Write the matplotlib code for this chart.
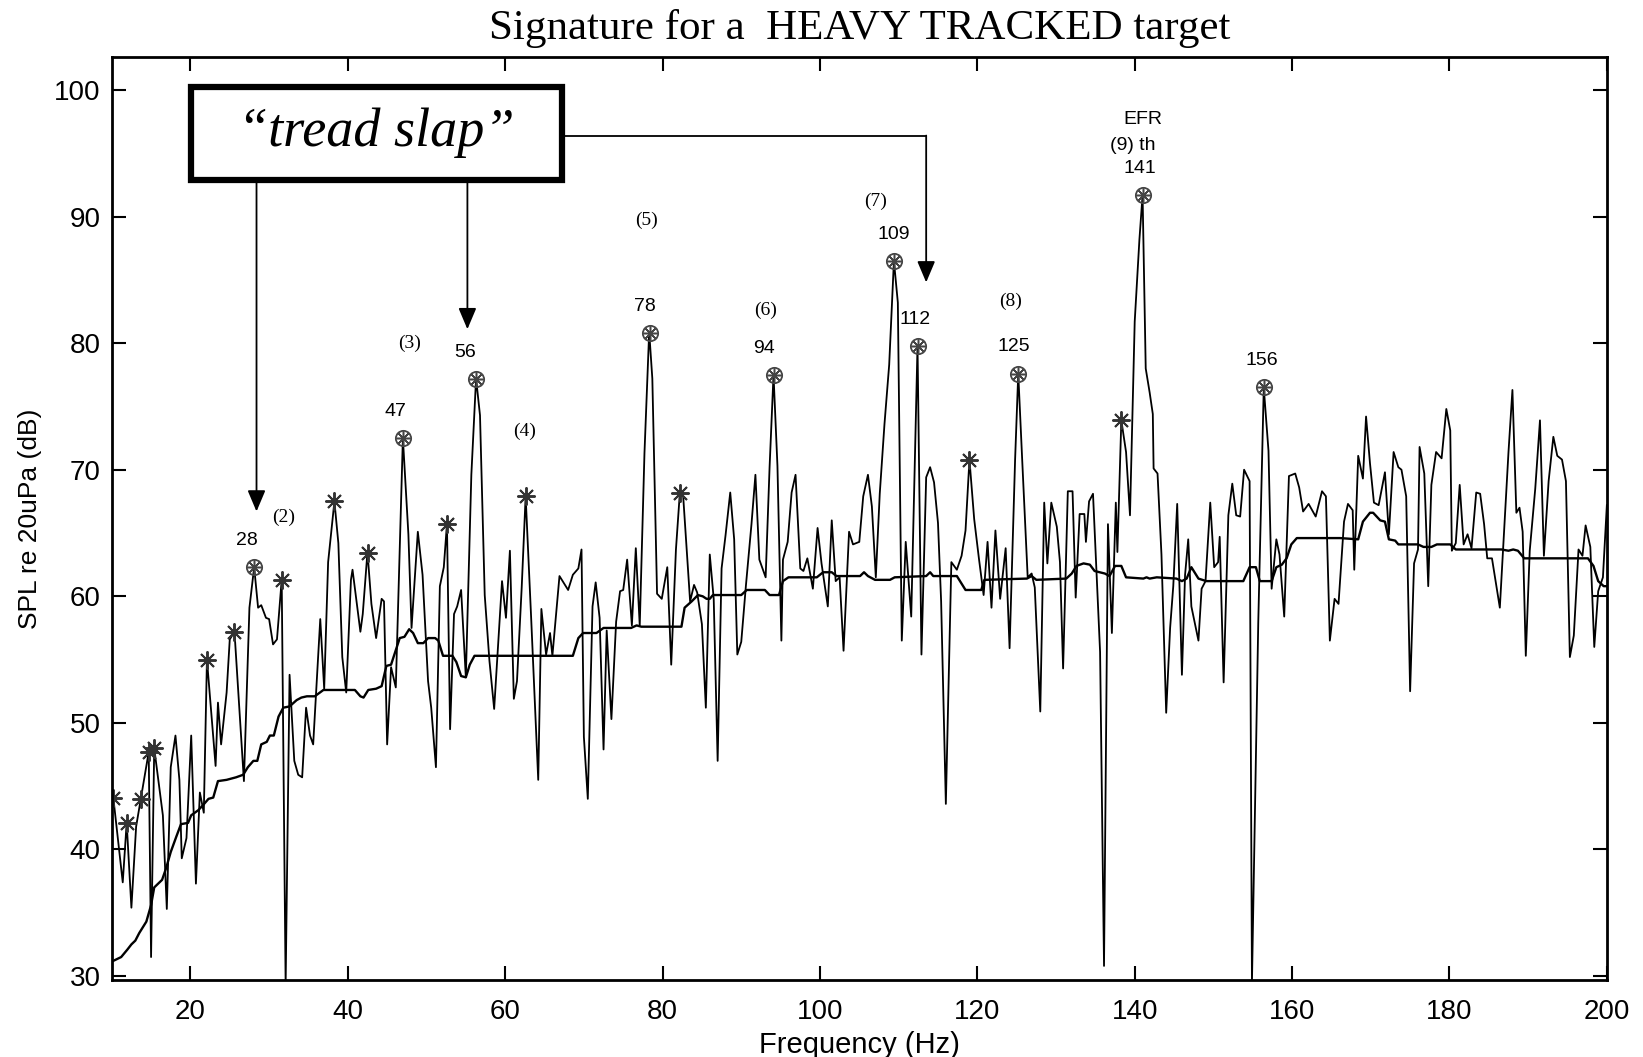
import matplotlib
matplotlib.use("Agg")
import matplotlib.pyplot as plt
from matplotlib.patches import Rectangle

# narrowband spectrum (vertices)
raw_freq = [10.2, 11.4, 11.9, 12.5, 13.1, 13.7, 14.7, 15.0, 15.4, 16.5, 17.0, 17.5, 18.1, 18.6, 18.9,
            19.5, 20.1, 20.7, 21.2, 21.7, 22.1, 23.2, 23.5, 23.9, 24.6, 25.0, 25.6, 26.8, 27.5, 28.1,
            28.6, 29.0, 29.6, 30.0, 30.5, 31.0, 31.6, 32.1, 32.6, 33.2, 33.7, 34.2, 34.7, 35.2, 35.6,
            36.5, 37.0, 37.5, 38.3, 38.8, 39.3, 39.8, 40.4, 40.6, 41.6, 41.9, 42.5, 43.0, 43.6, 44.3,
            44.6, 45.0, 45.5, 46.1, 47.0, 47.7, 48.1, 48.9, 49.5, 50.2, 50.6, 51.2, 51.7, 52.2, 52.6,
            53.0, 53.5, 53.9, 54.4, 55.0, 55.7, 56.3, 56.8, 57.4, 58.0, 58.6, 59.1, 59.6, 60.1, 60.6,
            61.1, 61.5, 62.1, 62.6, 63.3, 64.2, 64.6, 65.2, 65.7, 66.0, 66.9, 68.0, 68.6, 69.3, 69.7,
            70.0, 70.5, 71.1, 71.5, 72.0, 72.5, 72.9, 73.5, 74.1, 74.6, 75.0, 75.5, 76.1, 76.6, 77.1,
            77.7, 78.3, 78.7, 79.3, 79.9, 80.6, 81.1, 81.7, 82.2, 82.6, 83.5, 84.0, 84.4, 85.0, 85.5,
            86.0, 86.5, 87.0, 87.5, 88.0, 88.6, 89.1, 89.5, 90.0, 90.6, 91.3, 91.8, 92.3, 93.1, 93.6,
            94.1, 94.6, 95.1, 95.3, 95.9, 96.4, 96.9, 97.5, 97.9, 98.4, 99.1, 99.7, 100.2, 101.0, 101.5,
            102.0, 102.5, 103.0, 103.7, 104.2, 105.0, 105.5, 106.1, 106.6, 107.1, 107.6, 108.2, 108.8, 109.4, 109.9,
            110.4, 110.9, 111.6, 112.4, 112.9, 113.5, 114.0, 114.5, 115.0, 115.4, 116.0, 116.7, 117.4, 118.0, 118.5,
            119.0, 119.6, 120.2, 120.8, 121.3, 121.8, 122.3, 122.9, 123.6, 124.1, 124.8, 125.2, 125.7, 126.4, 126.9,
            127.3, 128.0, 128.5, 128.9, 129.4, 130.1, 130.5, 130.9, 131.5, 132.1, 132.5, 133.0, 133.6, 133.8, 134.2,
            134.7, 135.6, 136.1, 136.6, 137.1, 137.6, 137.8, 138.3, 138.9, 139.4, 140.0, 140.6, 141.0, 141.4, 141.9,
            142.3, 142.4, 142.9, 143.4, 144.0, 144.5, 144.9, 145.4, 146.0, 146.4, 146.8, 147.2, 148.1, 148.5, 149.0,
            149.6, 150.1, 150.6, 150.8, 151.3, 151.9, 152.4, 152.9, 153.4, 153.9, 154.6, 154.9, 155.7, 156.4, 157.0,
            157.4, 158.0, 158.4, 159.0, 159.6, 160.4, 160.9, 161.4, 162.1, 163.0, 163.8, 164.3, 164.8, 165.4, 165.9,
            166.6, 167.1, 167.7, 167.9, 168.4, 169.0, 169.4, 169.9, 170.4, 171.0, 171.8, 172.3, 172.9, 173.5, 173.9,
            174.5, 175.0, 175.5, 176.0, 176.2, 176.8, 177.3, 177.7, 178.3, 179.0, 179.6, 180.1, 180.3, 180.8, 181.3,
            181.8, 182.3, 182.8, 183.4, 183.9, 184.4, 184.8, 185.4, 186.4, 187.5, 188.0, 188.5, 188.9, 189.3, 189.7,
            190.2, 190.9, 191.5, 192.0, 192.6, 193.2, 193.7, 194.3, 194.8, 195.3, 195.8, 196.4, 196.9, 197.3, 197.9,
            198.4, 198.9, 199.5, 200.0]
raw_spl = [44.1, 37.4, 42.1, 35.4, 41.8, 44.0, 47.7, 31.5, 48.0, 42.7, 35.3, 46.5, 49.0, 45.5, 39.3,
           40.9, 49.0, 37.3, 44.5, 42.9, 55.0, 46.6, 51.6, 48.3, 52.4, 56.6, 57.2, 45.4, 59.1, 62.3,
           59.1, 59.3, 58.3, 58.2, 56.2, 56.6, 61.3, 29.3, 53.8, 47.0, 45.9, 45.7, 51.2, 49.0, 48.3,
           58.2, 52.7, 62.7, 67.5, 64.2, 55.2, 52.4, 61.3, 62.1, 57.2, 58.6, 63.5, 59.4, 56.7, 59.8,
           59.6, 48.3, 54.4, 52.8, 72.5, 64.9, 57.5, 65.1, 61.7, 53.3, 51.2, 46.5, 60.8, 62.3, 65.7,
           49.5, 58.6, 59.2, 60.5, 53.6, 69.6, 77.2, 74.3, 60.1, 54.9, 51.1, 56.2, 61.2, 58.3, 63.6,
           51.9, 53.3, 60.7, 67.9, 58.3, 45.5, 59.0, 55.4, 57.1, 55.3, 61.6, 60.5, 61.7, 62.2, 63.7,
           48.9, 44.0, 59.2, 61.1, 58.3, 47.9, 57.3, 50.3, 58.0, 60.4, 60.5, 62.9, 57.7, 63.8, 57.7,
           71.3, 80.9, 77.2, 60.2, 59.8, 62.3, 54.6, 63.7, 68.2, 68.1, 59.6, 60.9, 60.3, 57.8, 51.2,
           63.3, 59.8, 47.0, 62.2, 64.8, 68.2, 64.5, 55.4, 56.4, 60.9, 65.7, 69.6, 62.9, 61.5, 70.2,
           77.5, 70.3, 56.5, 62.9, 64.3, 68.2, 69.6, 62.2, 62.0, 63.0, 60.6, 65.4, 62.6, 59.2, 66.0,
           61.2, 61.5, 55.7, 65.1, 64.1, 64.3, 67.9, 69.6, 67.1, 61.5, 68.1, 73.6, 78.3, 86.5, 83.2,
           56.5, 64.3, 58.4, 79.8, 55.4, 69.4, 70.2, 69.0, 65.8, 59.6, 43.6, 62.7, 62.1, 63.2, 65.2,
           70.8, 66.1, 63.0, 60.1, 64.3, 59.1, 65.2, 59.8, 63.8, 55.9, 70.8, 77.6, 70.8, 61.5, 61.8,
           60.7, 50.9, 67.4, 62.6, 67.4, 65.5, 62.7, 54.3, 68.3, 68.3, 59.9, 66.5, 66.5, 64.3, 67.5,
           68.1, 55.6, 30.8, 65.7, 57.1, 67.4, 63.5, 73.9, 71.4, 66.4, 81.7, 88.2, 91.7, 78.0, 76.1,
           74.4, 70.1, 69.7, 63.3, 50.8, 57.5, 60.8, 67.3, 53.8, 61.7, 64.5, 59.2, 56.5, 60.6, 61.2,
           67.4, 62.3, 62.7, 64.7, 53.2, 66.4, 68.9, 66.4, 66.3, 70.0, 69.1, 29.5, 57.9, 76.5, 71.5,
           60.6, 64.5, 63.3, 58.4, 69.5, 69.7, 68.6, 66.7, 67.3, 66.3, 68.3, 67.9, 56.5, 59.8, 59.4,
           65.9, 67.3, 66.8, 62.1, 71.1, 69.3, 74.2, 70.5, 67.4, 67.2, 69.8, 64.9, 71.4, 70.2, 70.0,
           67.9, 52.5, 62.6, 63.7, 71.8, 69.7, 60.8, 68.8, 71.4, 70.9, 74.8, 73.1, 63.6, 64.2, 68.8,
           64.1, 64.9, 63.8, 68.2, 68.1, 65.7, 63.0, 63.0, 59.1, 71.4, 76.3, 66.6, 67.0, 65.1, 55.3,
           63.6, 68.5, 73.9, 63.2, 69.1, 72.6, 71.1, 70.8, 69.1, 55.2, 56.9, 63.7, 63.2, 65.6, 63.9,
           56.0, 60.4, 61.5, 67.2]

# smoothed background level
avg_freq = [10.2, 11.2, 12.0, 12.5, 13.0, 13.5, 14.4, 15.0, 15.4, 16.4, 16.9, 17.5, 18.2, 18.8, 19.7,
            20.1, 21.0, 21.6, 22.3, 22.9, 23.5, 24.6, 25.8, 26.7, 27.3, 28.0, 28.5, 29.0, 29.7, 30.1,
            30.6, 31.2, 31.8, 32.6, 33.5, 34.1, 34.8, 35.8, 36.9, 37.7, 40.9, 41.6, 42.0, 42.6, 43.6,
            44.3, 44.9, 45.5, 46.6, 47.2, 47.8, 48.3, 48.9, 49.6, 50.2, 51.1, 51.5, 52.1, 53.3, 53.8,
            54.4, 55.0, 55.5, 56.1, 68.6, 69.3, 69.9, 71.6, 72.5, 76.0, 76.7, 77.3, 82.4, 82.8, 83.7,
            84.5, 85.1, 85.6, 86.0, 86.4, 90.0, 90.7, 93.0, 93.6, 94.8, 95.3, 96.0, 99.6, 100.4, 101.5,
            102.1, 105.1, 105.6, 106.1, 107.0, 108.9, 109.5, 113.5, 114.0, 114.4, 117.4, 118.0, 118.5, 120.5, 120.9,
            126.3, 126.9, 127.5, 131.3, 132.0, 132.6, 133.5, 134.3, 134.9, 136.2, 136.8, 137.5, 138.3, 138.9, 141.1,
            141.5, 141.9, 142.8, 145.3, 146.0, 146.6, 147.2, 148.1, 149.1, 153.8, 154.6, 155.4, 155.9, 157.4, 158.0,
            158.7, 159.3, 159.9, 160.6, 166.1, 168.4, 169.0, 169.9, 170.3, 171.2, 171.8, 172.3, 173.1, 173.5, 176.0,
            176.7, 177.7, 178.4, 180.1, 180.8, 186.6, 187.5, 188.1, 188.7, 189.5, 197.6, 198.3, 198.9, 199.6, 200.0]
avg_spl = [31.2, 31.5, 32.1, 32.5, 32.8, 33.4, 34.3, 35.6, 37.0, 37.6, 38.5, 39.8, 41.0, 42.0, 42.1,
           42.7, 43.1, 43.5, 44.0, 44.1, 45.4, 45.5, 45.7, 45.9, 46.5, 47.0, 47.0, 48.3, 48.5, 49.0,
           49.0, 50.5, 51.2, 51.3, 51.8, 52.0, 52.1, 52.1, 52.6, 52.6, 52.6, 52.1, 52.0, 52.6, 52.7,
           52.9, 54.5, 54.6, 56.7, 56.8, 57.4, 57.1, 56.3, 56.3, 56.7, 56.7, 56.5, 55.3, 55.3, 54.8,
           53.7, 53.6, 54.6, 55.3, 55.3, 56.7, 57.1, 57.1, 57.5, 57.5, 57.7, 57.6, 57.6, 59.1, 59.6,
           60.1, 60.0, 59.8, 59.8, 60.1, 60.1, 60.5, 60.5, 60.1, 60.1, 61.2, 61.5, 61.5, 61.9, 61.9,
           61.6, 61.6, 61.9, 61.6, 61.3, 61.3, 61.5, 61.6, 61.9, 61.6, 61.6, 61.0, 60.5, 60.5, 61.3,
           61.4, 61.6, 61.3, 61.4, 61.8, 62.4, 62.6, 62.5, 62.0, 61.8, 61.6, 62.4, 62.4, 61.5, 61.4,
           61.5, 61.4, 61.5, 61.4, 61.2, 61.4, 62.3, 61.4, 61.2, 61.2, 62.3, 62.3, 61.2, 61.2, 62.3,
           62.5, 63.0, 64.1, 64.6, 64.6, 64.5, 65.9, 66.6, 66.6, 66.0, 65.9, 64.5, 64.4, 64.1, 64.1,
           63.9, 63.9, 64.1, 64.1, 63.7, 63.7, 63.6, 63.7, 63.6, 63.0, 63.0, 62.4, 61.2, 60.8, 60.8]

# picked tonals
star_freq = [10.2, 11.9, 13.7, 14.7, 15.4, 22.1, 25.6, 31.6, 38.3, 42.6, 52.6, 62.6, 82.2, 119.0, 138.3]
star_spl = [44.1, 42.1, 44.0, 47.7, 48.0, 55.0, 57.2, 61.3, 67.5, 63.4, 65.7, 67.9, 68.2, 70.8, 73.9]
peak_freq = [28.1, 47.0, 56.3, 78.4, 94.1, 109.4, 112.4, 125.2, 141.0, 156.4]
peak_spl = [62.3, 72.5, 77.2, 80.8, 77.5, 86.5, 79.8, 77.6, 91.7, 76.5]
peak_labels = ['28', '47', '56', '78', '94', '109', '112', '125', '141', '156']
harmonic_labels = ['(2)', '(3)', '(4)', '(5)', '(6)', '(7)', '(8)']

fig = plt.figure(figsize=(16.43, 10.57), dpi=100)
ax = fig.add_axes([0.068, 0.073, 0.910, 0.873])

ax.plot(raw_freq, raw_spl, color='black', lw=1.3)
ax.plot(avg_freq, avg_spl, color='black', lw=1.7)

ast = (8, 2, 0)
ax.plot(star_freq, star_spl, ls='none', marker=ast, ms=13, mec='#333333', mew=1.4)
ax.plot(peak_freq, peak_spl, ls='none', marker='o', ms=11, mfc='none', mec='#444444', mew=1.3)
ax.plot(peak_freq, peak_spl, ls='none', marker=ast, ms=10, mec='#444444', mew=1.1)

label_dx = [-0.9, -1.0, -1.4, -0.7, -1.2, 0.0, -0.3, -0.6, -0.3, -0.2]
for f, s, t, dx in zip(peak_freq, peak_spl, peak_labels, label_dx):
    ax.text(f + dx, s + 2.1, t, ha='center', va='center', fontsize=14, family='Liberation Sans')

harm_pos = [(31.9, 66.2), (47.8, 80.0), (62.4, 73.0), (78.0, 89.7), (93.1, 82.6), (107.1, 91.2), (124.2, 83.3)]
for (x, y), t in zip(harm_pos, harmonic_labels):
    ax.text(x, y, t, ha='center', va='center', fontsize=14, family='Liberation Serif')
ax.text(139.8, 95.6, '(9) th', ha='center', va='center', fontsize=14, family='Liberation Sans')
ax.text(141.0, 97.7, 'EFR', ha='center', va='center', fontsize=14, family='Liberation Sans')

# "tread slap" callout
ax.add_patch(Rectangle((20.1, 92.9), 47.1, 7.3, fill=False, lw=4.5, ec='black', zorder=5))
ax.text(43.6, 96.6, '\u201ctread slap\u201d', ha='center', va='center', fontsize=39,
        family='Liberation Serif', style='italic', zorder=6)
arrow = dict(arrowstyle='-|>,head_length=1.3,head_width=0.55', color='black', lw=1.3, shrinkA=0, shrinkB=0)
ax.annotate('', xy=(28.4, 66.7), xytext=(28.4, 92.9), arrowprops=arrow)
ax.annotate('', xy=(55.2, 81.1), xytext=(55.2, 92.9), arrowprops=arrow)
ax.plot([67.2, 113.5], [96.4, 96.4], color='black', lw=1.3)
ax.annotate('', xy=(113.5, 84.8), xytext=(113.5, 96.4), arrowprops=arrow)

ax.set_xlim(10, 200)
ax.set_ylim(29.7, 102.6)
ax.set_xticks(range(20, 201, 20))
ax.set_yticks(range(30, 101, 10))
ax.tick_params(direction='in', length=10, width=1.5, top=True, right=True, labelsize=20)
ax.tick_params(axis='x', pad=14)
ax.tick_params(axis='y', pad=8)
for lab in ax.get_xticklabels() + ax.get_yticklabels():
    lab.set_family('Liberation Sans')
for sp in ax.spines.values():
    sp.set_linewidth(2)

ax.set_xlabel('Frequency (Hz)', fontsize=21, family='Liberation Sans', labelpad=4)
ax.set_ylabel('SPL re 20uPa (dB)', fontsize=19, family='Liberation Sans', labelpad=9)
ax.set_title('Signature for a  HEAVY TRACKED target', fontsize=31, family='Liberation Serif', pad=13)

fig.savefig('out.png', dpi=100)
